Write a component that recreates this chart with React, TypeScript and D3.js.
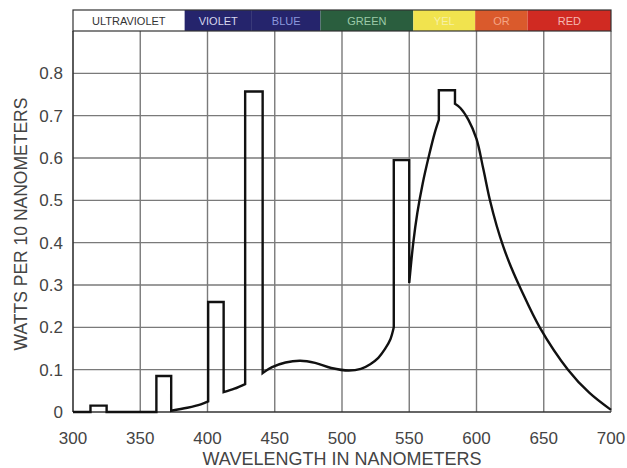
import React from 'react';
import * as d3 from 'd3';

// spectral power distribution of a mercury-vapour / phosphor lamp
const xTicks = [300, 350, 400, 450, 500, 550, 600, 650, 700];
const yTicks = [0, 0.1, 0.2, 0.3, 0.4, 0.5, 0.6, 0.7, 0.8];
const yTickLabels = ['0', '0.1', '0.2', '0.3', '0.4', '0.5', '0.6', '0.7', '0.8'];

// colour band along the top
const bandNames = ['ULTRAVIOLET', 'VIOLET', 'BLUE', 'GREEN', 'YEL', 'OR', 'RED'];
const bandStarts = [300, 383, 433, 484, 553, 599, 638];
const bandEnds = [383, 433, 484, 553, 599, 638, 700];
const bandFills = ['#ffffff', '#25246c', '#25246c', '#2a5e3e', '#f1e34e', '#da5a2c', '#d02a22'];
const bandTextColors = ['#333333', '#d6d6ee', '#8c97dc', '#9ccaa8', '#f6f0a6', '#f5a585', '#f5b8b2'];

// smooth continuum pieces between the 10 nm emission bars
const continuum: [number, number][][] = [
  [[300, 0], [313, 0]],
  [[325, 0], [362, 0]],
  [[373, 0.003], [385, 0.01], [395, 0.018], [400.5, 0.025]],
  [[412, 0.047], [420, 0.055], [428, 0.066]],
  [[441, 0.092], [448, 0.106], [458, 0.117], [469, 0.121], [480, 0.116], [492, 0.104], [505, 0.098],
    [514, 0.102], [521, 0.113], [527, 0.128], [532, 0.149], [536, 0.172], [538.5, 0.2]],
  [[550, 0.305], [553, 0.4], [556, 0.47], [560, 0.54], [565, 0.61], [569, 0.66], [572, 0.69]],
  [[584, 0.728], [588, 0.718], [594, 0.69], [600, 0.645], [605, 0.575], [610, 0.5], [615, 0.44],
    [620, 0.39], [626, 0.34], [633, 0.29], [647, 0.2], [668, 0.1], [684, 0.045], [700, 0.005]],
];

// emission line bars (start nm, end nm, height)
const barStarts = [313, 362, 400.5, 428, 538.5, 572];
const barEnds = [325, 373, 412, 441, 550, 584];
const barTops = [0.015, 0.085, 0.26, 0.757, 0.595, 0.76];

const W = 627;
const H = 468;
const font = '"Liberation Sans", Arial, Helvetica, sans-serif';

export default function App() {
  const x = d3.scaleLinear().domain([300, 700]).range([73, 611]);
  const y = d3.scaleLinear().domain([0, 0.9]).range([412, 31]);

  const smooth = d3.line<[number, number]>()
    .x((d) => x(d[0]))
    .y((d) => y(d[1]))
    .curve(d3.curveCatmullRom.alpha(0.5));
  const straight = d3.line<[number, number]>()
    .x((d) => x(d[0]))
    .y((d) => y(d[1]));

  let pathD = '';
  continuum.forEach((piece, i) => {
    const seg = smooth(piece) || '';
    pathD += i === 0 ? seg : seg.replace(/^M/, 'L');
    if (i < barStarts.length) {
      const last = piece[piece.length - 1];
      const next = continuum[i + 1][0];
      const step = straight([
        last,
        [barStarts[i], barTops[i]],
        [barEnds[i], barTops[i]],
        next,
      ]) || '';
      pathD += step.replace(/^M/, 'L');
    }
  });

  const bandTop = 10;
  const bandBottom = y(0.9);

  return (
    <svg width={W} height={H} style={{ position: 'absolute', left: 0, top: 0, background: '#fff' }}
      fontFamily={font}>
      <rect x={0} y={0} width={W} height={H} fill="#fff" />

      {/* grid */}
      {yTicks.slice(1).map((t) => (
        <line key={'gy' + t} x1={x(300)} x2={x(700)} y1={y(t)} y2={y(t)} stroke="#7a7a7a" strokeWidth={1.4} />
      ))}
      {xTicks.map((t) => (
        <line key={'gx' + t} x1={x(t)} x2={x(t)} y1={bandBottom} y2={y(0)}
          stroke={t === 300 ? '#333' : '#7a7a7a'} strokeWidth={t === 300 ? 1.6 : 1.4} />
      ))}
      <line x1={x(300)} x2={x(700)} y1={y(0)} y2={y(0)} stroke="#333" strokeWidth={1.6} />

      {/* colour band */}
      {bandNames.map((name, i) => (
        <rect key={'b' + name} x={x(bandStarts[i])} y={bandTop} width={x(bandEnds[i]) - x(bandStarts[i])}
          height={bandBottom - bandTop} fill={bandFills[i]} />
      ))}
      <rect x={x(300)} y={bandTop} width={x(700) - x(300)} height={bandBottom - bandTop}
        fill="none" stroke="#333" strokeWidth={1.2} />
      {bandNames.map((name, i) => (
        <text key={'bt' + name} x={x((bandStarts[i] + bandEnds[i]) / 2)} y={25} textAnchor="middle"
          fontSize={11} fill={bandTextColors[i]}>{name}</text>
      ))}

      {/* spectrum */}
      <path d={pathD} fill="none" stroke="#111" strokeWidth={2.4} strokeLinejoin="miter" />

      {/* tick labels */}
      {yTicks.map((t, i) => (
        <text key={'yl' + t} x={63} y={y(t) + 6} textAnchor="end" fontSize={17} fill="#444">
          {yTickLabels[i]}
        </text>
      ))}
      {xTicks.map((t) => (
        <text key={'xl' + t} x={x(t)} y={444} textAnchor="middle" fontSize={17} fill="#444">{t}</text>
      ))}

      {/* axis titles */}
      <text x={342} y={465} textAnchor="middle" fontSize={18} fill="#444">WAVELENGTH IN NANOMETERS</text>
      <text transform={`translate(27, 224) rotate(-90)`} textAnchor="middle" fontSize={17.5} fill="#444">
        WATTS PER 10 NANOMETERS
      </text>
    </svg>
  );
}
